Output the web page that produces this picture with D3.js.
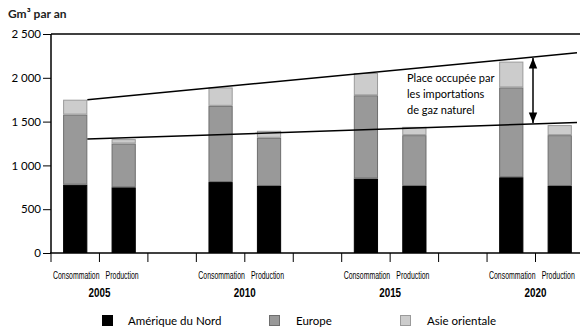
<!DOCTYPE html>
<html><head><meta charset="utf-8">
<script src="https://cdn.jsdelivr.net/npm/d3@7"></script>
<style>body{margin:0;background:#fff}svg{display:block}</style>
</head><body>
<svg id="c" width="580" height="333"></svg>
<script>
const years = ["2005", "2010", "2015", "2020"];
const types = ["Consommation", "Production"];
const seriesNames = ["Amérique du Nord", "Europe", "Asie orientale"];
const seriesColors = ["#000000", "#999999", "#cccccc"];
const seriesStrokes = ["#000000", "#6e6e6e", "#9a9a9a"];
// values per year, Gm³
const naCons = [780, 810, 850, 865];
const naProd = [750, 765, 765, 765];
const euCons = [800, 870, 950, 1025];
const euProd = [500, 550, 580, 580];
const asCons = [170, 210, 255, 295];
const asProd = [50, 80, 95, 115];
const yTicks = [0, 500, 1000, 1500, 2000, 2500];
const importLines = [{from: 1750, to: 2285}, {from: 1300, to: 1490}];
const noteLines = ["Place occupée par", "les importations", "de gaz naturel"];

const svg = d3.select("#c");
const x0 = 51, yTop = 34, yBase = 253;
const slots = [];
years.forEach(y => { types.forEach(t => slots.push(y + "|" + t)); slots.push(y + "|gap"); });
const x = d3.scaleBand().domain(slots).range([x0, x0 + 48.45 * slots.length]).paddingInner(0).paddingOuter(0);
const y = d3.scaleLinear().domain([0, 2500]).range([yBase, yTop]);

const bars = [];
years.forEach((yr, i) => {
  [[naCons, euCons, asCons], [naProd, euProd, asProd]].forEach((set, ti) => {
    let acc = 0;
    set.forEach((arr, si) => {
      bars.push({slot: yr + "|" + types[ti], s: si, y0: acc, y1: acc + arr[i]});
      acc += arr[i];
    });
  });
});

const bw = x.bandwidth() * 0.5;
svg.append("g").selectAll("rect").data(bars).join("rect")
  .attr("x", d => x(d.slot) + (x.bandwidth() - bw) / 2 + 0.5)
  .attr("width", bw - 1)
  .attr("y", d => y(d.y1) + 0.5)
  .attr("height", d => Math.max(0, y(d.y0) - y(d.y1) - 1))
  .attr("fill", d => seriesColors[d.s])
  .attr("stroke", d => seriesStrokes[d.s])
  .attr("stroke-width", 1);

// import lines
const lx1 = x("2005|Consommation") + (x.bandwidth() + bw) / 2;
const lx2 = 577;
svg.append("g").selectAll("line").data(importLines).join("line")
  .attr("x1", lx1).attr("x2", lx2)
  .attr("y1", d => y(d.from)).attr("y2", d => y(d.to))
  .attr("stroke", "#000").attr("stroke-width", 1.5);

// arrow
const ax = 533;
const lineY = (d, px) => y(d.from) + (y(d.to) - y(d.from)) * (px - lx1) / (lx2 - lx1);
const defs = svg.append("defs");
defs.append("marker").attr("id", "ah").attr("viewBox", "0 0 10 10").attr("refX", 10).attr("refY", 5)
  .attr("markerWidth", 7).attr("markerHeight", 7).attr("orient", "auto-start-reverse")
  .append("path").attr("d", "M0,1 L10,5 L0,9 Z").attr("fill", "#000");
svg.append("line").attr("x1", ax).attr("x2", ax)
  .attr("y1", lineY(importLines[0], ax) + 1).attr("y2", lineY(importLines[1], ax) - 1)
  .attr("stroke", "#000").attr("stroke-width", 1.5)
  .attr("marker-start", "url(#ah)").attr("marker-end", "url(#ah)");

svg.append("text").attr("x", 407).attr("y", 82)
  .attr("font-family", "Lato, 'DejaVu Sans', sans-serif").attr("font-size", 11).attr("fill", "#000")
  .selectAll("tspan").data(noteLines).join("tspan")
  .attr("x", 407).attr("dy", (d, i) => i ? 16 : 0).text(d => d);

// frame and axes
svg.append("line").attr("x1", x0).attr("x2", 580).attr("y1", yTop).attr("y2", yTop).attr("stroke", "#000").attr("stroke-width", 1.5);
svg.append("line").attr("x1", x0).attr("x2", x0).attr("y1", yTop).attr("y2", yBase).attr("stroke", "#000").attr("stroke-width", 1.5);

const fmt = v => d3.format(",")(v).replace(",", " ");
const ya = svg.append("g").attr("transform", `translate(${x0},0)`)
  .call(d3.axisLeft(y).tickValues(yTicks).tickSize(8).tickPadding(2).tickFormat(fmt));
ya.select(".domain").remove();
ya.selectAll("text").attr("font-family", "Lato, 'DejaVu Sans', sans-serif").attr("font-size", 11.5).attr("fill", "#000");
ya.selectAll("line").attr("stroke", "#000");

svg.append("line").attr("x1", x0 - 1).attr("x2", 580).attr("y1", yBase).attr("y2", yBase).attr("stroke", "#000").attr("stroke-width", 1.5);
svg.append("g").selectAll("line").data(slots).join("line")
  .attr("x1", d => x(d)).attr("x2", d => x(d)).attr("y1", yBase).attr("y2", yBase + 9)
  .attr("stroke", "#000").attr("stroke-width", 1);

// category labels (condensed via horizontal scaling)
svg.append("g").selectAll("text").data(slots.filter(s => !s.endsWith("gap"))).join("text")
  .attr("transform", d => `translate(${x(d) + x.bandwidth() / 2 - (d.endsWith("Production") ? 1.5 : -1)},279) scale(0.63,1)`)
  .attr("text-anchor", "middle")
  .attr("font-family", "'Liberation Sans', Arial, sans-serif").attr("font-size", 11)
  .attr("fill", "#000").text(d => d.split("|")[1]);
svg.append("g").selectAll("text").data(years).join("text")
  .attr("transform", d => `translate(${x(d + "|Production")},297) scale(0.82,1)`)
  .attr("text-anchor", "middle")
  .attr("font-family", "'Liberation Sans', Arial, sans-serif").attr("font-weight", "bold").attr("font-size", 12)
  .attr("fill", "#000").text(d => d);

svg.append("text").attr("x", 8).attr("y", 18)
  .attr("font-family", "Lato, 'DejaVu Sans', sans-serif").attr("font-weight", "bold").attr("font-size", 12)
  .attr("fill", "#222").text("Gm³ par an");

// legend
const legX = [102, 269, 400];
const lg = svg.append("g").selectAll("g").data(seriesNames).join("g")
  .attr("transform", (d, i) => `translate(${legX[i]},315)`);
lg.append("rect").attr("x", 0.5).attr("y", 0.5).attr("width", 10).attr("height", 10)
  .attr("fill", (d, i) => seriesColors[i]).attr("stroke", (d, i) => seriesStrokes[i]);
lg.append("text").attr("x", (d, i) => i === 0 ? 26 : 27).attr("y", 9.5)
  .attr("font-family", "Lato, 'DejaVu Sans', sans-serif").attr("font-size", 11.5).attr("fill", "#000").text(d => d);
</script>
</body></html>
